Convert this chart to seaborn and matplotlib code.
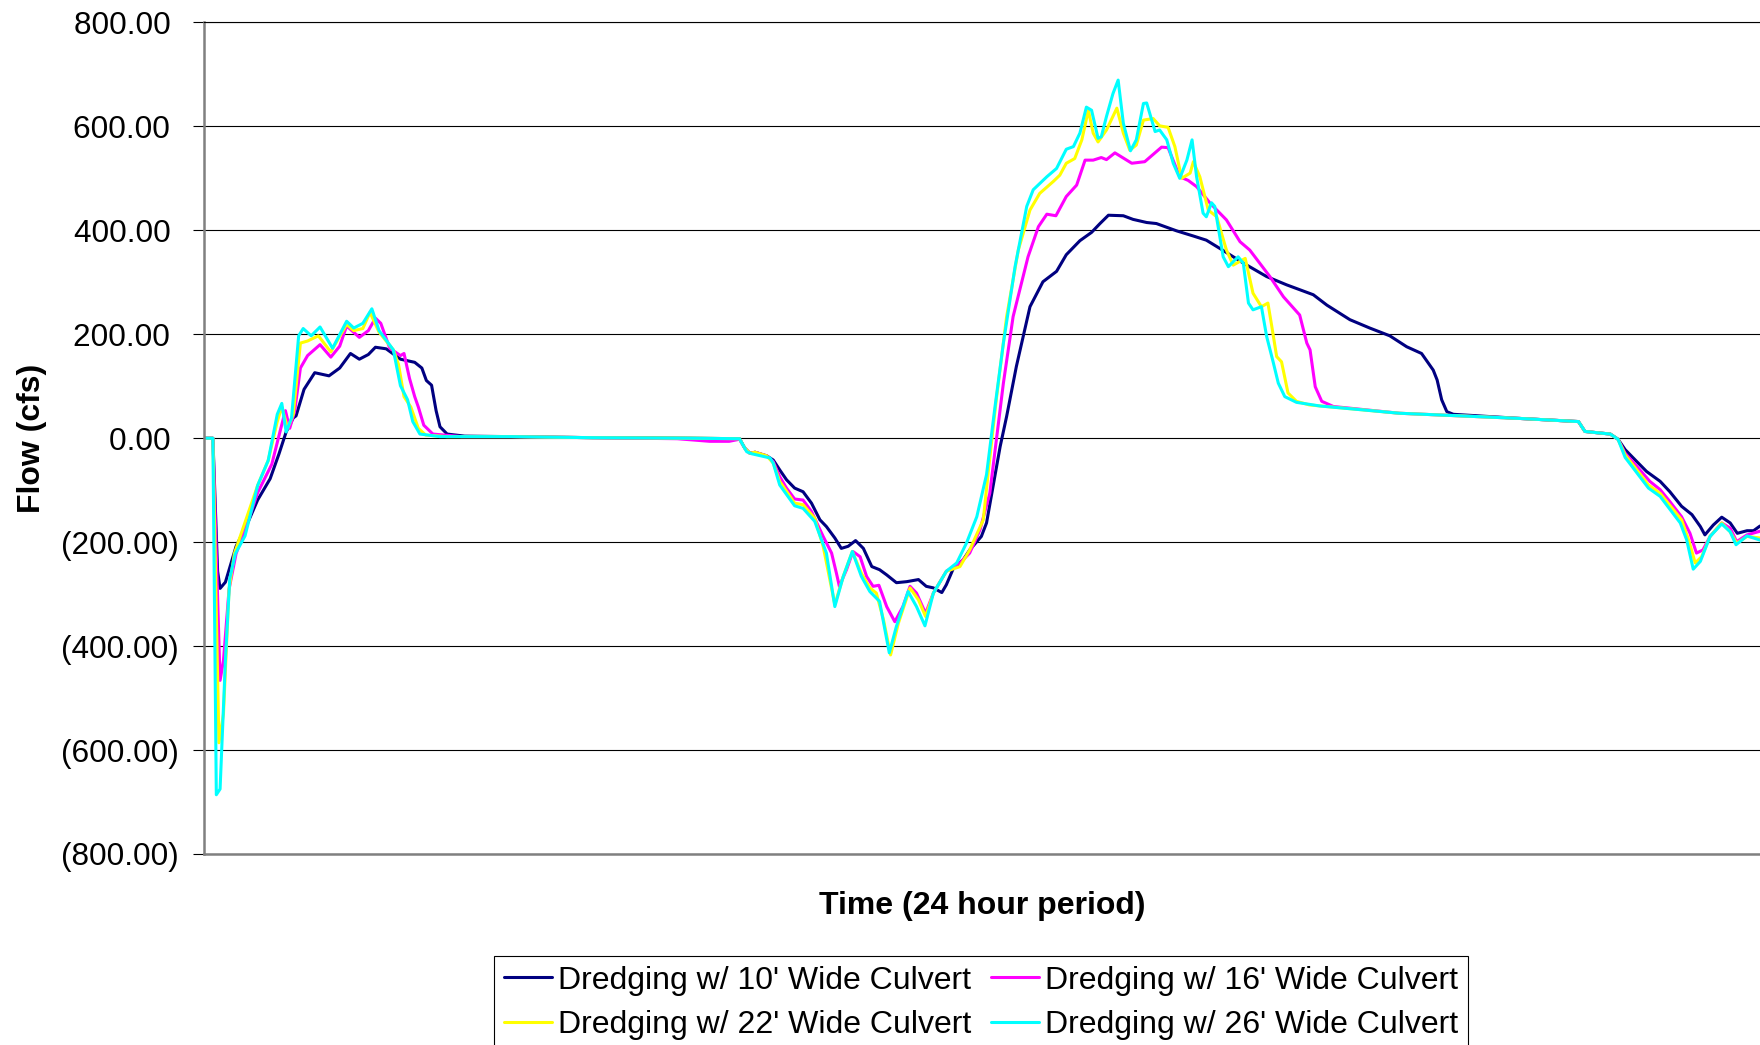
import pandas as pd
import seaborn as sns
from matplotlib import pyplot as plt
from matplotlib.ticker import FuncFormatter, MultipleLocator

# series names / colours (Excel-style)
names = ["Dredging w/ 10' Wide Culvert", "Dredging w/ 16' Wide Culvert",
         "Dredging w/ 22' Wide Culvert", "Dredging w/ 26' Wide Culvert"]
colors = ["#000080", "#FF00FF", "#FFFF00", "#00FFFF"]

# time in hours, flow in cfs
t10 = [0, 0.137, 0.21, 0.248, 0.33, 0.495, 0.66, 0.827, 1.02, 1.157,
       1.267, 1.377, 1.42, 1.543, 1.708, 1.928, 2.093, 2.259, 2.396, 2.535,
       2.644, 2.81, 3.03, 3.25, 3.36, 3.43, 3.51, 3.58, 3.64, 3.75,
       4.02, 4.74, 6.0, 7.5, 8.26, 8.34, 8.42, 8.5, 8.68, 8.78,
       8.88, 8.985, 9.11, 9.24, 9.37, 9.50, 9.60, 9.73, 9.83, 9.935,
       10.05, 10.17, 10.30, 10.42, 10.53, 10.68, 10.84, 11.02, 11.14, 11.25,
       11.38, 11.45, 11.56, 11.71, 11.81, 11.99, 12.07, 12.17, 12.28, 12.38,
       12.53, 12.74, 12.94, 13.15, 13.30, 13.51, 13.69, 13.82, 13.95, 14.18,
       14.33, 14.54, 14.69, 15.0, 15.26, 15.46, 15.67, 16.03, 16.39, 16.70,
       17.11, 17.32, 17.675, 17.98, 18.29, 18.55, 18.78, 18.96, 19.02, 19.09,
       19.17, 19.27, 20.30, 21.20, 21.30, 21.53, 21.69, 21.81, 21.92, 22.10,
       22.25, 22.46, 22.61, 22.79, 22.95, 23.08, 23.15, 23.28, 23.41, 23.54,
       23.65, 23.80, 23.90, 24.0]
q10 = [0, 0, -256, -289, -277, -208, -167, -119, -78, -30,
       12, 39, 43, 94, 126, 120, 135, 163, 152, 161,
       175, 172, 152, 146, 135, 111, 102, 53, 22, 8,
       4, 3, 1, 0, -1, -19, -29, -27, -34, -42,
       -61, -80, -96, -103, -125, -157, -170, -192, -212, -208,
       -197, -212, -247, -253, -263, -278, -276, -272, -285, -288,
       -297, -282, -250, -234, -215, -189, -163, -93, -16, 42,
       138, 253, 301, 321, 353, 380, 396, 413, 429, 428,
       421, 415, 413, 399, 389, 381, 365, 337, 311, 295,
       276, 256, 228, 212, 197, 176, 163, 131, 112, 74,
       51, 46, 38, 32, 13, 10, 8, -2, -22, -45,
       -64, -83, -103, -131, -147, -170, -186, -167, -152, -163,
       -183, -178, -178, -169]

t16 = [0, 0.137, 0.248, 0.30, 0.386, 0.495, 0.66, 0.827, 1.046, 1.185,
       1.256, 1.322, 1.40, 1.487, 1.598, 1.79, 1.956, 2.093, 2.20, 2.396,
       2.535, 2.644, 2.727, 2.865, 3.03, 3.085, 3.17, 3.25, 3.306, 3.39,
       3.53, 3.97, 4.74, 6.0, 7.3, 7.8, 8.1, 8.26, 8.34, 8.42,
       8.5, 8.68, 8.78, 8.88, 8.985, 9.11, 9.24, 9.37, 9.55, 9.68,
       9.755, 9.80, 9.91, 10.01, 10.12, 10.22, 10.32, 10.41, 10.53, 10.655,
       10.78, 10.89, 10.99, 11.13, 11.25, 11.45, 11.66, 11.81, 11.97, 12.12,
       12.33, 12.48, 12.71, 12.87, 13.0, 13.14, 13.30, 13.46, 13.59, 13.715,
       13.84, 13.92, 14.05, 14.31, 14.51, 14.77, 14.87, 15.05, 15.18, 15.31,
       15.52, 15.77, 15.98, 16.13, 16.44, 16.65, 16.90, 17.01, 17.06, 17.14,
       17.24, 17.42, 18.44, 20.30, 21.20, 21.30, 21.53, 21.69, 21.81, 21.92,
       22.10, 22.30, 22.46, 22.61, 22.79, 22.92, 23.02, 23.12, 23.23, 23.41,
       23.54, 23.64, 23.80, 24.0]
q16 = [0, 0, -466, -428, -291, -222, -167, -105, -50, 19,
       53, 19, 53, 135, 159, 180, 156, 177, 216, 194,
       207, 231, 221, 173, 159, 163, 115, 80, 60, 25,
       8, 3, 3, 1, -1, -6, -6, -2, -19, -29,
       -27, -34, -45, -74, -96, -117, -119, -141, -189, -221,
       -260, -285, -253, -218, -228, -266, -285, -283, -324, -353,
       -324, -285, -298, -337, -298, -256, -240, -221, -176, -106,
       106, 234, 349, 407, 431, 428, 465, 487, 535, 535,
       540, 536, 549, 529, 532, 560, 559, 503, 496, 484,
       452, 420, 378, 362, 311, 272, 237, 183, 170, 99,
       71, 61, 48, 38, 32, 13, 10, 8, -2, -29,
       -54, -83, -99, -122, -151, -183, -221, -215, -189, -163,
       -173, -199, -186, -179]

t22 = [0, 0.137, 0.23, 0.30, 0.386, 0.468, 0.827, 0.99, 1.13, 1.20,
       1.29, 1.377, 1.487, 1.598, 1.764, 1.956, 2.20, 2.31, 2.45, 2.56,
       2.70, 2.92, 3.0, 3.085, 3.19, 3.306, 3.42, 3.75, 4.74, 6.0,
       7.5, 8.26, 8.34, 8.42, 8.5, 8.68, 8.78, 8.88, 9.11, 9.24,
       9.42, 9.55, 9.73, 9.86, 10.0, 10.14, 10.27, 10.37, 10.48, 10.59,
       10.71, 10.89, 11.02, 11.13, 11.25, 11.45, 11.66, 11.81, 12.02, 12.10,
       12.22, 12.38, 12.56, 12.74, 12.89, 13.10, 13.20, 13.30, 13.43, 13.54,
       13.64, 13.715, 13.79, 13.92, 14.08, 14.18, 14.28, 14.38, 14.49, 14.64,
       14.74, 14.87, 14.975, 15.08, 15.21, 15.26, 15.36, 15.49, 15.62, 15.77,
       15.875, 16.06, 16.18, 16.31, 16.41, 16.47, 16.545, 16.62, 16.72, 16.85,
       17.05, 18.44, 20.30, 21.20, 21.30, 21.53, 21.69, 21.81, 21.92, 22.28,
       22.46, 22.79, 22.90, 23.0, 23.10, 23.23, 23.41, 23.54, 23.64, 23.80,
       24.0]
q22 = [0, 0, -586, -531, -291, -222, -91, -43, 32, 60,
       19, 46, 183, 187, 197, 166, 219, 207, 211, 242,
       204, 170, 142, 80, 60, 19, 6, 3, 3, 1,
       0, -1, -19, -29, -27, -34, -48, -83, -125, -128,
       -154, -208, -320, -266, -218, -260, -288, -298, -349, -417,
       -356, -288, -311, -343, -298, -256, -247, -215, -157, -61,
       74, 234, 362, 439, 471, 494, 506, 529, 538, 574,
       631, 587, 570, 593, 635, 587, 554, 564, 612, 615,
       601, 598, 561, 500, 510, 532, 503, 439, 426, 362,
       333, 346, 279, 253, 260, 215, 157, 147, 87, 71,
       64, 48, 38, 32, 13, 10, 8, -2, -32, -90,
       -106, -157, -196, -240, -228, -189, -163, -180, -202, -189,
       -192]

t26 = [0, 0.137, 0.19, 0.248, 0.33, 0.397, 0.484, 0.633, 0.827, 0.99,
       1.13, 1.20, 1.267, 1.35, 1.46, 1.53, 1.653, 1.79, 1.983, 2.20,
       2.31, 2.45, 2.589, 2.70, 2.92, 3.03, 3.14, 3.22, 3.33, 3.64,
       4.74, 6.0, 7.5, 8.26, 8.37, 8.45, 8.73, 8.78, 8.88, 9.11,
       9.24, 9.42, 9.60, 9.73, 9.86, 10.0, 10.14, 10.27, 10.42, 10.57,
       10.68, 10.86, 10.99, 11.12, 11.25, 11.45, 11.61, 11.76, 11.92, 12.07,
       12.2, 12.33, 12.51, 12.69, 12.79, 13.0, 13.15, 13.30, 13.41, 13.51,
       13.61, 13.69, 13.79, 13.84, 13.92, 14.02, 14.10, 14.18, 14.29, 14.38,
       14.49, 14.54, 14.67, 14.74, 14.85, 14.95, 15.05, 15.16, 15.24, 15.31,
       15.41, 15.46, 15.54, 15.59, 15.72, 15.80, 15.95, 16.03, 16.11, 16.18,
       16.31, 16.39, 16.49, 16.57, 16.67, 16.85, 17.21, 18.44, 20.30, 21.20,
       21.30, 21.53, 21.69, 21.81, 21.92, 22.28, 22.46, 22.77, 22.87, 22.97,
       23.08, 23.23, 23.41, 23.54, 23.63, 23.80, 24.0]
q26 = [0, 0, -686, -675, -428, -270, -222, -188, -91, -43,
       46, 67, 12, 39, 197, 211, 197, 214, 173, 225,
       212, 221, 249, 207, 170, 101, 74, 32, 8, 3,
       3, 1, 0, -1, -26, -30, -38, -48, -90, -130,
       -135, -160, -221, -324, -266, -218, -266, -295, -314, -413,
       -362, -295, -324, -361, -298, -256, -240, -202, -151, -70,
       60, 183, 330, 446, 478, 503, 519, 556, 561, 587,
       637, 631, 577, 580, 619, 663, 689, 606, 553, 574,
       644, 645, 590, 593, 574, 529, 500, 535, 574, 503,
       433, 426, 453, 446, 349, 330, 349, 337, 260, 247,
       253, 196, 147, 106, 80, 69, 62, 48, 38, 32,
       13, 10, 8, -2, -37, -96, -112, -163, -196, -252,
       -237, -189, -165, -180, -205, -188, -196]

frames = []
for name, t, q in zip(names, [t10, t16, t22, t26], [q10, q16, q22, q26]):
    frames.append(pd.DataFrame({"Time": t, "Flow": q, "Scenario": name}))
df = pd.concat(frames, ignore_index=True)

sns.set_style("white")
plt.rcParams["font.family"] = ["Liberation Sans", "DejaVu Sans"]
plt.rcParams.update({"text.color": "black", "axes.labelcolor": "black",
                     "xtick.color": "black", "ytick.color": "black"})

fig = plt.figure(figsize=(17.6, 10.45), dpi=100)
ax = fig.add_axes([204 / 1760, 1 - 854 / 1045, 1556 / 1760, 831.6 / 1045])

sns.lineplot(data=df, x="Time", y="Flow", hue="Scenario", hue_order=names,
             palette=dict(zip(names, colors)), estimator=None, sort=False,
             linewidth=2.2, legend=False, ax=ax)

ax.set_xlim(0, 24)
ax.set_ylim(-800, 800)
ax.yaxis.set_major_locator(MultipleLocator(200))


# accounting style: negatives in brackets, positives leave room for ")"
def money(v, pos):
    return f"({abs(v):.2f})" if v < 0 else f"{v:.2f} "


ax.yaxis.set_major_formatter(FuncFormatter(money))
ax.set_xticks([])
ax.set_axisbelow(True)
ax.grid(axis="y", color="black", lw=0.8)
ax.tick_params(axis="y", direction="out", length=8, width=0.8, color="black",
               left=True, pad=10, labelsize=22.7)

for side in ["left", "bottom"]:
    ax.spines[side].set_color("#808080")
    ax.spines[side].set_linewidth(1.8)
ax.spines["top"].set_color("black")
ax.spines["top"].set_linewidth(0.8)
ax.spines["right"].set_visible(False)

ax.set_ylabel("Flow (cfs)", fontsize=23, fontweight="bold")
ax.yaxis.set_label_coords(-0.101, 0.5)
ax.set_xlabel("Time (24 hour period)", fontsize=23, fontweight="bold")
ax.xaxis.set_label_coords(0.5, -0.045)

# legend: two columns, row-wise order like the original
lines = ax.get_lines()[:4]
order = [0, 2, 1, 3]
leg = fig.legend([lines[i] for i in order], [names[i] for i in order],
                 loc="upper center", bbox_to_anchor=(981 / 1760, 1 - 956 / 1045),
                 ncol=2, fontsize=23, frameon=True, fancybox=False,
                 edgecolor="black", framealpha=1, handlelength=1.5,
                 handletextpad=0.2, columnspacing=0.6, borderpad=0.3,
                 labelspacing=0.45, borderaxespad=0)
leg.get_frame().set_linewidth(0.8)

fig.savefig("out.png", dpi=100)
